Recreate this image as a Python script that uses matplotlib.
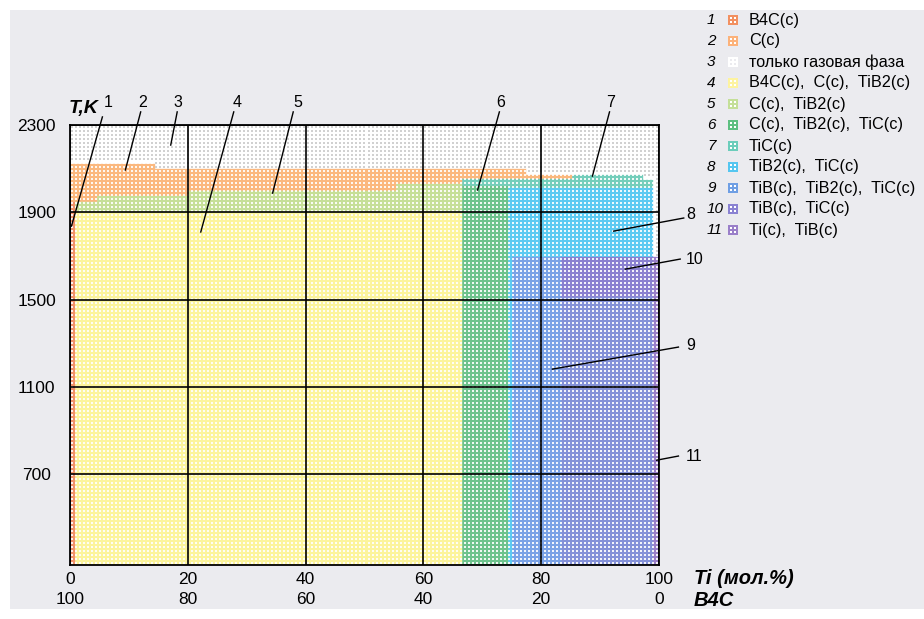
import numpy as np
import matplotlib
matplotlib.use("Agg")
import matplotlib.pyplot as plt
from matplotlib.patches import Rectangle

plt.rcParams['font.family'] = ['Liberation Sans', 'DejaVu Sans']

# ---------------- data ----------------
# composition segments (Ti, mol.%)
x_edges = [0, 0.8, 4.5, 14.4, 20.0, 55.4, 66.6, 74.4, 75.1, 77.5, 83.3, 85.3, 97.3, 99.0, 100]
# phase fields from bottom to top in each segment, and their upper temperature (K)
seg_phases = [
    [1, 2, 3],
    [4, 5, 2, 3],
    [4, 5, 2, 3],
    [4, 5, 2, 3],
    [4, 5, 2, 3],
    [4, 5, 2, 3],
    [6, 7, 2, 3],
    [8, 7, 2, 3],
    [9, 8, 7, 2, 3],
    [9, 8, 7, 2, 3],
    [12, 10, 8, 7, 2, 3],
    [12, 10, 8, 7, 3],
    [12, 10, 8, 7, 3],
    [11, 3],
]
seg_tops = [
    [1954, 2127, 2300],
    [1900, 1954, 2127, 2300],
    [1900, 1979, 2127, 2300],
    [1900, 1979, 2102, 2300],
    [1900, 2002, 2102, 2300],
    [1900, 2033, 2102, 2300],
    [2025, 2056, 2102, 2300],
    [2014, 2058, 2102, 2300],
    [1702, 2014, 2058, 2102, 2300],
    [1702, 2014, 2056, 2076, 2300],
    [1515, 1702, 2014, 2056, 2076, 2300],
    [1515, 1702, 2014, 2076, 2300],
    [1515, 1702, 2014, 2053, 2300],
    [1702, 2300],
]
T_min, T_max = 285, 2300

legend_nums = ['1', '2', '3', '4', '5', '6', '7', '8', '9', '10', '11']
legend_labels = ['B4C(c)', 'C(c)', 'только газовая фаза', 'B4C(c),  C(c),  TiB2(c)',
                 'C(c),  TiB2(c)', 'C(c),  TiB2(c),  TiC(c)', 'TiC(c)', 'TiB2(c),  TiC(c)',
                 'TiB(c),  TiB2(c),  TiC(c)', 'TiB(c),  TiC(c)', 'Ti(c),  TiB(c)']

x_ticks = [0, 20, 40, 60, 80, 100]
x_ticks_b4c = [100, 80, 60, 40, 20, 0]
y_ticks = [700, 1100, 1500, 1900, 2300]

# leader labels: (text, text position, line start, line end) in data units
leader_text = ['1', '2', '3', '4', '5', '6', '7', '8', '9', '10', '11']
leader_text_xy = [(6.4, 2405), (12.3, 2405), (18.4, 2405), (28.4, 2405), (38.6, 2405),
                  (73.1, 2405), (91.8, 2405), (105.3, 1890), (105.3, 1288), (105.3, 1686), (105.3, 784)]
leader_from = [(5.5, 2337), (12.0, 2360), (18.2, 2360), (27.8, 2360), (37.9, 2360),
               (72.9, 2360), (91.6, 2360), (104.2, 1874), (103.3, 1283), (103.6, 1686), (103.3, 784)]
leader_to = [(0.25, 1837), (9.4, 2094), (17.1, 2208), (22.2, 1810), (34.4, 1988),
             (69.2, 2002), (88.7, 2066), (92.3, 1814), (81.9, 1182), (94.3, 1640), (99.6, 765)]

# ---------------- colours ----------------
phase_colors = {1: '#f1926a', 2: '#fbb87e', 3: '#ffffff', 4: '#fcf49c', 5: '#c6df98',
                6: '#6ec38d', 7: '#74cebb', 8: '#5ccaf2', 9: '#7aa2e6', 10: '#8a80d0',
                11: '#9a7fc9', 12: '#8491d8'}
legend_colors = ['#f29060', '#fcb27a', '#ffffff', '#fdf3a0', '#c4df98', '#5dbf80',
                 '#6ccdbb', '#55c6f0', '#6f9fe4', '#8a82d2', '#9a7fc9']

W, H = 924, 619
fig = plt.figure(figsize=(W / 100, H / 100), dpi=100)
fig.patch.set_facecolor('white')
fig.add_artist(Rectangle((10 / W, 1 - 609 / H), 1 - 10 / W, 599 / H,
                         transform=fig.transFigure, facecolor='#ebebef', edgecolor='none', zorder=0))

AX_L, AX_T, AX_W, AX_H = 70, 125, 589, 440
ax = fig.add_axes([AX_L / W, 1 - (AX_T + AX_H) / H, AX_W / W, AX_H / H])
ax.set_xlim(0, 100)
ax.set_ylim(T_min, T_max)
ax.set_facecolor('white')

# phase fields as stacked bars
for i in range(len(seg_phases)):
    x0, x1 = x_edges[i], x_edges[i + 1]
    bottom = T_min
    for ph, top in zip(seg_phases[i], seg_tops[i]):
        c = phase_colors[ph]
        ax.bar(x0, top - bottom, width=x1 - x0, bottom=bottom, align='edge',
               color=c, edgecolor=c, linewidth=0.4, zorder=1)
        bottom = top

# dotted texture (pixel-aligned overlay)
def phase_at(x, T):
    i = min(max(np.searchsorted(x_edges, x, side='right') - 1, 0), len(seg_phases) - 1)
    for ph, top in zip(seg_phases[i], seg_tops[i]):
        if T <= top:
            return ph
    return 3

tex = np.zeros((AX_H, AX_W, 4))
for r in range(1, AX_H, 4):
    T = T_max - (r + 1) / AX_H * (T_max - T_min)
    for c in range(1, AX_W, 4):
        x = (c + 1) / AX_W * 100
        if phase_at(x, T) == 3:
            rgba = (0.82, 0.82, 0.82, 1.0)
        else:
            rgba = (1.0, 1.0, 1.0, 0.9)
        tex[r:r + 2, c:c + 2] = rgba
ax.imshow(tex, extent=[0, 100, T_min, T_max], aspect='auto', interpolation='nearest',
          origin='upper', zorder=2)
ax.set_xlim(0, 100)
ax.set_ylim(T_min, T_max)

# grid & frame
ax.set_xticks(x_ticks)
ax.set_yticks(y_ticks)
ax.grid(True, color='black', linewidth=1.2, zorder=3)
ax.set_axisbelow(False)
for s in ax.spines.values():
    s.set_color('black')
    s.set_linewidth(1.3)
    s.set_zorder(4)

ax.set_xticklabels([f'{a}\n{b}' for a, b in zip(x_ticks, x_ticks_b4c)],
                   fontsize=12.5, linespacing=1.4)
ax.set_yticklabels([str(t) for t in y_ticks], fontsize=12.5)
ax.tick_params(axis='both', length=0)
ax.tick_params(axis='x', pad=5)
ax.tick_params(axis='y', pad=24)
for lbl in ax.get_yticklabels():
    lbl.set_ha('center')

# leader lines and numbers
for t, txy, p0, p1 in zip(leader_text, leader_text_xy, leader_from, leader_to):
    ax.plot([p0[0], p1[0]], [p0[1], p1[1]], color='black', linewidth=1.0,
            clip_on=False, zorder=5)
    ha = 'center' if txy[0] <= 100 else 'left'
    ax.text(txy[0] if ha == 'center' else 104.6, txy[1], t, fontsize=11.5, ha=ha,
            va='center', clip_on=False, zorder=6)

# axis titles
fig.text(84 / W, 1 - 109 / H, 'T,K', fontsize=14, fontweight='bold', fontstyle='italic',
         ha='center', va='center')
fig.text(694 / W, 1 - 578 / H, 'Ti (мол.%)', fontsize=14.5, fontweight='bold',
         fontstyle='italic', ha='left', va='center')
fig.text(694 / W, 1 - 600 / H, 'B4C', fontsize=14.5, fontweight='bold',
         fontstyle='italic', ha='left', va='center')

# legend (overlay in pixel coordinates)
ov = fig.add_axes([0, 0, 1, 1])
ov.set_xlim(0, W)
ov.set_ylim(H, 0)
ov.axis('off')
ov.patch.set_alpha(0)
for k, (num, lab, col) in enumerate(zip(legend_nums, legend_labels, legend_colors)):
    y = 20 + 21 * k
    ov.text(707, y, num, fontsize=11, fontstyle='italic', ha='left', va='center')
    ov.scatter([733], [y], s=55, marker='s', color=col, linewidths=0)
    ov.scatter([731, 735, 731, 735], [y - 2, y - 2, y + 2, y + 2], s=2.5, marker='s',
               color='#ebebef' if k == 2 else 'white', linewidths=0)
    ov.text(749, y, lab, fontsize=11.7, ha='left', va='center')

fig.savefig('out.png', dpi=100)
